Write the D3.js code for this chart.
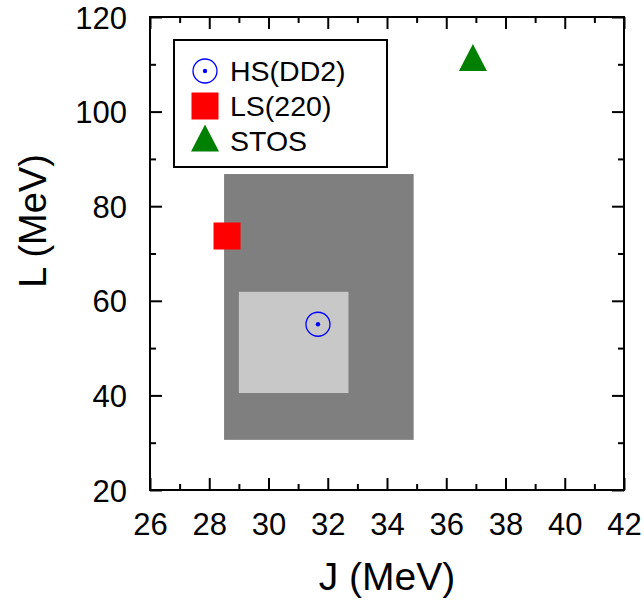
<!DOCTYPE html>
<html>
<head>
<meta charset="utf-8">
<script src="https://cdn.jsdelivr.net/npm/d3@7"></script>
<style>
  body { margin: 0; background: #fff; }
  text { font-family: "Liberation Sans", Arial, Helvetica, sans-serif; fill: #000; }
</style>
</head>
<body>
<svg id="chart" width="644" height="603"></svg>
<script>
// EOS models (symmetry energy J, slope L)
var models = ["HS(DD2)", "LS(220)", "STOS"];
var modelJ = [31.67, 28.6, 36.9];
var modelL = [55.04, 73.7, 110.8];

// constraint boxes: outer (dark) and inner (light)
var boxJ = [[28.5, 34.9], [29.0, 32.7]];
var boxL = [[30.6, 86.8], [40.5, 61.9]];

var xMajor = [26, 28, 30, 32, 34, 36, 38, 40, 42];
var xMinor = [27, 29, 31, 33, 35, 37, 39, 41];
var yMajor = [20, 40, 60, 80, 100, 120];
var yMinor = [30, 50, 70, 90, 110];

var margin = {left: 150, right: 20, top: 17, bottom: 113};
var W = 644, H = 603;
var w = W - margin.left - margin.right,
    h = H - margin.top - margin.bottom;

var svg = d3.select("#chart");
var g = svg.append("g").attr("transform", "translate(" + margin.left + "," + margin.top + ")");

var x = d3.scaleLinear().domain([26, 42]).range([0, w]);
var y = d3.scaleLinear().domain([20, 120]).range([h, 0]);

// boxes
var boxFill = ["#7f7f7f", "#c8c8c8"];
g.selectAll("rect.box").data(boxJ).enter().append("rect")
  .attr("class", "box")
  .attr("x", function (d) { return x(d[0]); })
  .attr("width", function (d) { return x(d[1]) - x(d[0]); })
  .attr("y", function (d, i) { return y(boxL[i][1]); })
  .attr("height", function (d, i) { return y(boxL[i][0]) - y(boxL[i][1]); })
  .attr("fill", function (d, i) { return boxFill[i]; });

// axes - ticks point inward on all four sides
function styleAxis(sel) {
  sel.select(".domain").remove();
  sel.selectAll("line").attr("stroke", "#000").attr("stroke-width", 2);
}
g.append("g").attr("transform", "translate(0," + h + ")")
  .call(d3.axisBottom(x).tickValues(xMajor).tickSize(-12).tickFormat(d3.format("d")))
  .call(styleAxis)
  .call(function (s) {
    s.selectAll("text").attr("y", 45).attr("dy", null)
      .style("font-size", "31px").style("font-family", null);
  });
g.append("g").attr("transform", "translate(0," + h + ")")
  .call(d3.axisBottom(x).tickValues(xMinor).tickSize(-6).tickFormat(""))
  .call(styleAxis);
g.append("g")
  .call(d3.axisTop(x).tickValues(xMajor).tickSize(-12).tickFormat(""))
  .call(styleAxis);
g.append("g")
  .call(d3.axisTop(x).tickValues(xMinor).tickSize(-6).tickFormat(""))
  .call(styleAxis);

g.append("g")
  .call(d3.axisLeft(y).tickValues(yMajor).tickSize(-12).tickFormat(d3.format("d")))
  .call(styleAxis)
  .call(function (s) {
    s.selectAll("text").attr("x", -23).attr("dy", "0.36em")
      .style("font-size", "31px").style("font-family", null);
  });
g.append("g")
  .call(d3.axisLeft(y).tickValues(yMinor).tickSize(-6).tickFormat(""))
  .call(styleAxis);
g.append("g").attr("transform", "translate(" + w + ",0)")
  .call(d3.axisRight(y).tickValues(yMajor).tickSize(-12).tickFormat(""))
  .call(styleAxis);
g.append("g").attr("transform", "translate(" + w + ",0)")
  .call(d3.axisRight(y).tickValues(yMinor).tickSize(-6).tickFormat(""))
  .call(styleAxis);

// frame
g.append("rect").attr("width", w).attr("height", h)
  .attr("fill", "none").attr("stroke", "#000").attr("stroke-width", 2);

// markers
function drawMarker(sel, i) {
  if (i === 0) {
    sel.append("circle").attr("r", 12).attr("fill", "none").attr("stroke", "#0000ff").attr("stroke-width", 1.3);
    sel.append("circle").attr("r", 2.2).attr("fill", "#0000ff");
  } else if (i === 1) {
    sel.append("rect").attr("x", -13.5).attr("y", -13.5).attr("width", 27).attr("height", 27).attr("fill", "#ff0000");
  } else {
    sel.append("path").attr("d", "M0,-16.5L14,10.5L-14,10.5Z").attr("fill", "#008000");
  }
}
models.forEach(function (m, i) {
  var mk = g.append("g").attr("transform", "translate(" + x(modelJ[i]) + "," + y(modelL[i]) + ")");
  drawMarker(mk, i);
});

// legend
var leg = svg.append("g").attr("transform", "translate(174,40)");
leg.append("rect").attr("width", 213).attr("height", 127)
  .attr("fill", "#fff").attr("stroke", "#000").attr("stroke-width", 2);
models.forEach(function (m, i) {
  var row = leg.append("g").attr("transform", "translate(31," + (31 + i * 35) + ")");
  drawMarker(row, i);
  row.append("text").attr("x", 25).attr("dy", "0.36em").style("font-size", "28.5px").text(m);
});

// axis titles
svg.append("text").attr("x", margin.left + w / 2).attr("y", 590)
  .attr("text-anchor", "middle").style("font-size", "39px").text("J (MeV)");
svg.append("text").attr("transform", "translate(46,221) rotate(-90)")
  .attr("text-anchor", "middle").style("font-size", "38px").text("L (MeV)");
</script>
</body>
</html>
